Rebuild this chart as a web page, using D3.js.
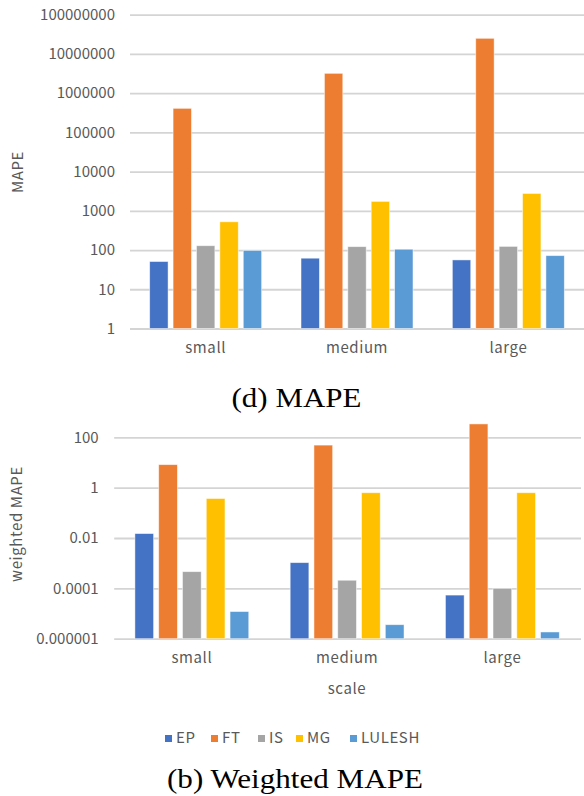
<!DOCTYPE html>
<html><head><meta charset="utf-8">
<script src="https://cdn.jsdelivr.net/npm/d3@7"></script>
<style>body{margin:0;background:#fff}svg{display:block}</style>
</head><body>
<svg id="c" width="584" height="796"></svg>
<script>
const categories = ["small", "medium", "large"];
const seriesNames = ["EP", "FT", "IS", "MG", "LULESH"];
const seriesColors = ["#4472C4", "#ED7D31", "#A5A5A5", "#FFC000", "#5B9BD5"];
// MAPE (top chart), per series: [small, medium, large]
const mapeEP = [51, 62, 56];
const mapeFT = [410000, 3200000, 25000000];
const mapeIS = [129, 122, 124];
const mapeMG = [525, 1740, 2770];
const mapeLULESH = [98, 105, 72];
const mapeTicks = [1, 10, 100, 1000, 10000, 100000, 1000000, 10000000, 100000000];
const mapeTickLabels = ["1", "10", "100", "1000", "10000", "100000", "1000000", "10000000", "100000000"];
// Weighted MAPE (bottom chart)
const wEP = [0.015, 0.00105, 0.000054];
const wFT = [8.2, 49, 340];
const wIS = [0.00046, 0.00021, 0.0001];
const wMG = [0.37, 0.63, 0.63];
const wLULESH = [0.000012, 0.0000036, 0.00000185];
const wTicks = [0.000001, 0.0001, 0.01, 1, 100];
const wTickLabels = ["0.000001", "0.0001", "0.01", "1", "100"];

const svg = d3.select("#c");
const sans = "'Noto Sans CJK JP', 'Noto Sans', sans-serif";
const serif = "'Liberation Serif', serif";
const gray = "#595959";
const FS = 15;
const LS = 0.6; // letter spacing for word labels

function drawChart(cfg) {
  const g = svg.append("g");
  const x0 = d3.scaleBand().domain(categories).range([cfg.left, cfg.right])
    .paddingInner(cfg.p).paddingOuter(cfg.p / 2);
  const x1 = d3.scaleBand().domain(seriesNames).range([0, x0.bandwidth()])
    .paddingInner(0.214).paddingOuter(0.107);
  const y = d3.scaleLog().domain(cfg.domain).range([cfg.bottom, cfg.top]);

  const yAxis = d3.axisLeft(y).tickValues(cfg.ticks)
    .tickSize(-(cfg.gridRight - cfg.left)).tickFormat((d, i) => cfg.tickLabels[i]).tickPadding(cfg.pad);
  const ya = g.append("g").attr("transform", `translate(${cfg.left},0)`).call(yAxis);
  ya.select(".domain").remove();
  ya.selectAll(".tick line").attr("stroke", "#d4d4d4").attr("stroke-width", 1.8);
  ya.selectAll(".tick text").attr("fill", gray).attr("font-family", sans).attr("font-size", FS);

  const data = [];
  categories.forEach((c, ci) => seriesNames.forEach((s, si) => {
    data.push({c, s, si, v: cfg.values[si][ci]});
  }));
  g.append("g").selectAll("rect").data(data).join("rect")
    .attr("x", d => x0(d.c) + x1(d.s))
    .attr("width", x1.bandwidth())
    .attr("y", d => y(d.v))
    .attr("height", d => cfg.bottom - y(d.v))
    .attr("fill", d => seriesColors[d.si])
    .attr("stroke", "#ffffff").attr("stroke-opacity", 0.6).attr("stroke-width", 0.8);

  const xAxis = d3.axisBottom(x0).tickSize(0).tickPadding(0);
  const xa = g.append("g").attr("transform", `translate(0,${cfg.xLabelY})`).call(xAxis);
  xa.select(".domain").remove();
  xa.selectAll(".tick text").attr("fill", gray).attr("font-family", sans).attr("font-size", FS)
    .attr("letter-spacing", LS).attr("dy", "0.35em");

  g.append("text").attr("transform", `translate(${cfg.yTitleX},${cfg.yTitleY}) rotate(-90)`)
    .attr("text-anchor", "middle").attr("dy", "0.35em").attr("letter-spacing", LS)
    .attr("fill", gray).attr("font-family", sans).attr("font-size", FS).text(cfg.yTitle);
  return g;
}

drawChart({
  left: 130, right: 584, gridRight: 584, top: 14.7, bottom: 328.5, p: 0.227, pad: 15,
  domain: [1, 100000000], ticks: mapeTicks, tickLabels: mapeTickLabels,
  values: [mapeEP, mapeFT, mapeIS, mapeMG, mapeLULESH],
  xLabelY: 348, yTitle: "MAPE", yTitleX: 18, yTitleY: 172
});
svg.append("text").attr("x", 231.5).attr("y", 406.5)
  .attr("textLength", 130).attr("lengthAdjust", "spacingAndGlyphs")
  .attr("font-family", serif).attr("font-size", 27).attr("fill", "#000").text("(d) MAPE");

drawChart({
  left: 114.2, right: 580, gridRight: 581, top: 437.3, bottom: 638.7, p: 0.234, pad: 15.5,
  domain: [0.000001, 100], ticks: wTicks, tickLabels: wTickLabels,
  values: [wEP, wFT, wIS, wMG, wLULESH],
  xLabelY: 658, yTitle: "weighted MAPE", yTitleX: 17, yTitleY: 524
});
svg.append("text").attr("x", 347).attr("y", 689).attr("dy", "0.35em").attr("text-anchor", "middle")
  .attr("letter-spacing", LS)
  .attr("font-family", sans).attr("font-size", FS).attr("fill", gray).text("scale");

// legend
const legendX = [165, 211, 258, 296, 350];
const lg = svg.append("g");
seriesNames.forEach((s, i) => {
  lg.append("rect").attr("x", legendX[i]).attr("y", 735).attr("width", 7).attr("height", 7)
    .attr("fill", seriesColors[i]);
  lg.append("text").attr("x", legendX[i] + 11).attr("y", 738).attr("dy", "0.35em")
    .attr("letter-spacing", LS)
    .attr("font-family", sans).attr("font-size", FS).attr("fill", gray).text(s);
});
svg.append("text").attr("x", 167).attr("y", 788)
  .attr("textLength", 256).attr("lengthAdjust", "spacingAndGlyphs")
  .attr("font-family", serif).attr("font-size", 27).attr("fill", "#000").text("(b) Weighted MAPE");
</script>
</body></html>
